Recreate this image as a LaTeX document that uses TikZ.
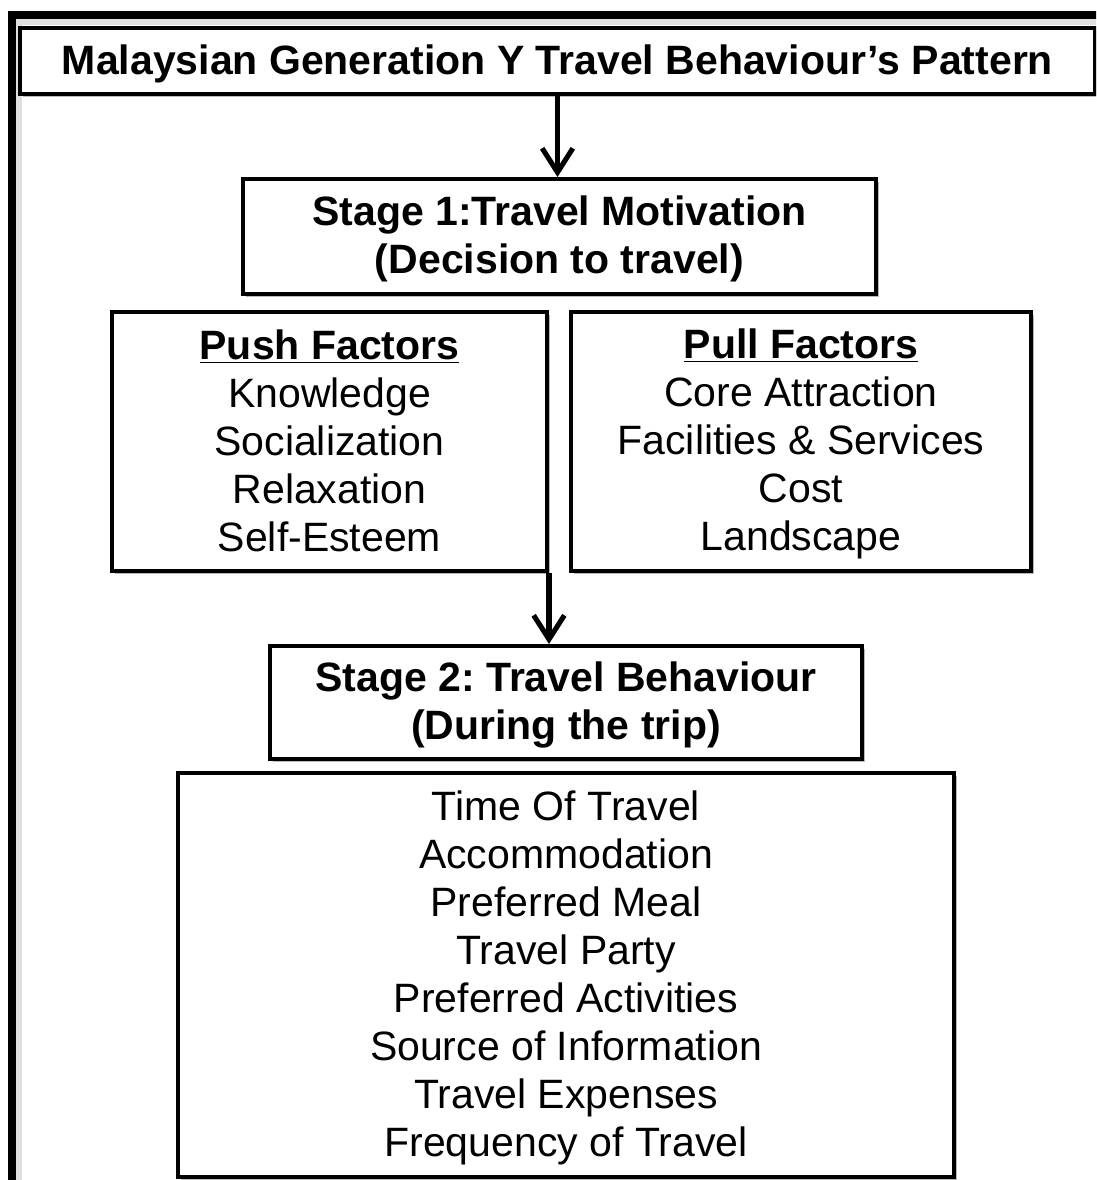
\documentclass[tikz,border=0pt]{standalone}
\usepackage{fontspec}
\setmainfont{Liberation Sans}
\usetikzlibrary{arrows.meta,shadows}
\newcommand\st{\rule[-5pt]{0pt}{31pt}}
\begin{document}
\begin{tikzpicture}[x=0.75pt,y=-0.75pt,
  box/.style={draw=black, line width=3pt, fill=white, inner sep=0pt, align=center,
    font=\fontsize{30.75}{36}\selectfont,
    drop shadow={shadow xshift=2.5pt, shadow yshift=-2.5pt, opacity=0.28, fill=black}},
  arr/.style={line width=3.8pt, -{Straight Barb[length=18pt,width=23pt,line width=3.8pt]}},
  frame/.style={line width=5.5pt, draw=black}]
\path[use as bounding box, clip] (0,0) rectangle (1096,1180);
\fill[white] (0,0) rectangle (1096,1180);
% outer frame (extends beyond the picture)
\fill[black!12] (15,18) rectangle (1200,25);
\fill[black!12] (15,18) rectangle (22,1300);
\draw[frame] (12,1300) -- (12,15) -- (1200,15);

\node[box, minimum width=806.25pt, minimum height=49.5pt] (title) at (557.5,61)
  {\bfseries\st Malaysian Generation Y Travel Behaviour’s Pattern};

\node[box, minimum width=474.75pt, minimum height=86.25pt] (stage1) at (559.5,236.5)
  {\bfseries\st Stage 1:Travel Motivation\\ \bfseries\st(Decision to travel)};

\node[box, minimum width=326.25pt, minimum height=194.25pt] (push) at (329.5,441.5)
  {\bfseries\st\underline{Push Factors}\\ \st Knowledge\\ \st Socialization\\ \st Relaxation\\ \st Self-Esteem};

\node[box, minimum width=345pt, minimum height=194.25pt] (pull) at (801,441.5)
  {\bfseries\st\underline{Pull Factors}\\ \st Core Attraction\\ \st Facilities \& Services\\ \st Cost\\ \st Landscape};

\node[box, minimum width=444pt, minimum height=84.75pt] (stage2) at (566,702.5)
  {\bfseries\st Stage 2:\ Travel Behaviour\\ \bfseries\st(During the trip)};

\node[box, minimum width=582pt, minimum height=303pt] (list) at (566,975)
  {\st Time Of Travel\\ \st Accommodation\\ \st Preferred Meal\\ \st Travel Party\\
   \st Preferred Activities\\ \st Source of Information\\ \st Travel Expenses\\ \st Frequency of Travel};

\draw[arr] (title.south) -- (title.south |- stage1.north);
\draw[arr] (push.south east) -- (push.south east |- stage2.north);
\end{tikzpicture}
\end{document}
